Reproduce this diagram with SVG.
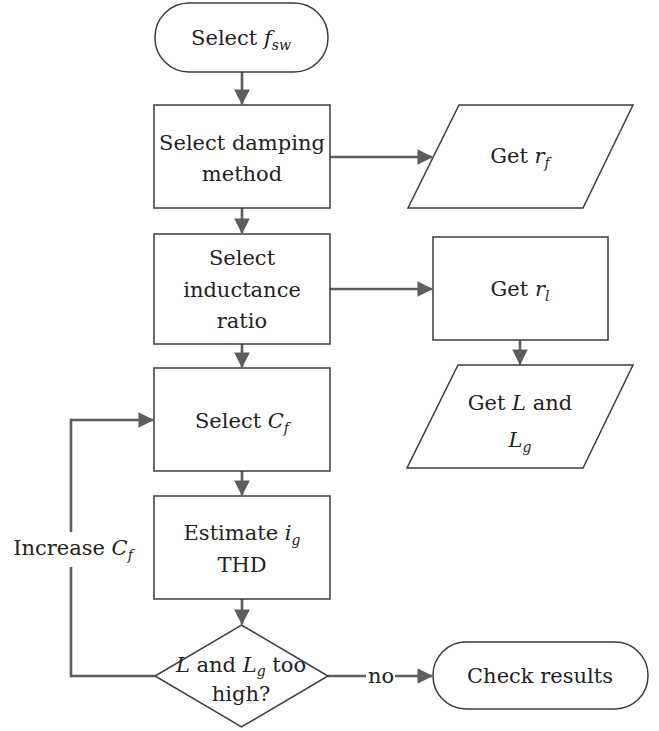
<svg xmlns="http://www.w3.org/2000/svg" width="659" height="731" viewBox="0 0 659 731">
<style>
  .node { fill: #ffffff; stroke: #3c3c3c; stroke-width: 1.5; }
  .conn { fill: none; stroke: #5e5e5e; stroke-width: 2.6; }
  .t { font-family: "DejaVu Serif", serif; font-size: 21px; fill: #222222; text-anchor: middle; }
  .i { font-style: italic; }
  .sub { font-style: italic; font-size: 14px; }
</style>
<defs>
  <marker id="arr" markerWidth="6" markerHeight="6" refX="5.6" refY="3" orient="auto" markerUnits="strokeWidth">
    <path d="M0,0 L6,3 L0,6 Z" fill="#5e5e5e"/>
  </marker>
</defs>

<g id="connectors">
  <line class="conn" x1="242" y1="72" x2="242" y2="104" marker-end="url(#arr)"/>
  <line class="conn" x1="330" y1="157" x2="432" y2="157" marker-end="url(#arr)"/>
  <line class="conn" x1="242" y1="208" x2="242" y2="233" marker-end="url(#arr)"/>
  <line class="conn" x1="330" y1="289" x2="432" y2="289" marker-end="url(#arr)"/>
  <line class="conn" x1="520" y1="340" x2="520" y2="364" marker-end="url(#arr)"/>
  <line class="conn" x1="242" y1="344" x2="242" y2="367" marker-end="url(#arr)"/>
  <line class="conn" x1="242" y1="471" x2="242" y2="495" marker-end="url(#arr)"/>
  <line class="conn" x1="242" y1="599" x2="242" y2="624" marker-end="url(#arr)"/>
  <polyline class="conn" points="155,676 71,676 71,567"/>
  <polyline class="conn" points="71,532 71,420 153,420" marker-end="url(#arr)"/>
  <line class="conn" x1="328" y1="676" x2="366" y2="676"/>
  <line class="conn" x1="395" y1="676" x2="432" y2="676" marker-end="url(#arr)"/>
  <text class="t" x="381" y="683">no</text>
  <text class="t" x="73" y="555">Increase <tspan class="i">C</tspan><tspan class="sub" dy="5">f</tspan></text>
</g>

<g id="start">
  <rect class="node" x="155" y="3" width="173" height="69" rx="34" ry="34"/>
  <text class="t" x="241" y="45">Select <tspan class="i">f</tspan><tspan class="sub" dy="5">sw</tspan></text>
</g>

<g id="damping">
  <rect class="node" x="154" y="105" width="176" height="103"/>
  <text class="t" x="242" y="150">Select damping</text>
  <text class="t" x="242" y="181">method</text>
</g>

<g id="get-rf">
  <polygon class="node" points="459,105 633,105 583,208 408,208"/>
  <text class="t" x="520" y="163">Get <tspan class="i">r</tspan><tspan class="sub" dy="5">f</tspan></text>
</g>

<g id="inductance">
  <rect class="node" x="154" y="234" width="176" height="110"/>
  <text class="t" x="242" y="265">Select</text>
  <text class="t" x="242" y="297">inductance</text>
  <text class="t" x="242" y="328">ratio</text>
</g>

<g id="get-rl">
  <rect class="node" x="433" y="237" width="175" height="103"/>
  <text class="t" x="520" y="296">Get <tspan class="i">r</tspan><tspan class="sub" dy="5">l</tspan></text>
</g>

<g id="get-L">
  <polygon class="node" points="458,365 633,365 583,468 407,468"/>
  <text class="t" x="520" y="410">Get <tspan class="i">L</tspan> and</text>
  <text class="t" x="520" y="447"><tspan class="i">L</tspan><tspan class="sub" dy="5">g</tspan></text>
</g>

<g id="select-cf">
  <rect class="node" x="154" y="368" width="176" height="103"/>
  <text class="t" x="242" y="428">Select <tspan class="i">C</tspan><tspan class="sub" dy="5">f</tspan></text>
</g>

<g id="estimate">
  <rect class="node" x="154" y="496" width="176" height="103"/>
  <text class="t" x="242" y="540">Estimate <tspan class="i">i</tspan><tspan class="sub" dy="5">g</tspan></text>
  <text class="t" x="242" y="572">THD</text>
</g>

<g id="decision">
  <polygon class="node" points="241.5,625 328,676 241.5,727 155,676"/>
  <text class="t" x="241" y="672"><tspan class="i">L</tspan> and <tspan class="i">L</tspan><tspan class="sub" dy="4">g</tspan><tspan dy="-4"> too</tspan></text>
  <text class="t" x="241" y="701">high?</text>
</g>

<g id="check">
  <rect class="node" x="433" y="642" width="215" height="67" rx="33" ry="33"/>
  <text class="t" x="540" y="683">Check results</text>
</g>
</svg>
